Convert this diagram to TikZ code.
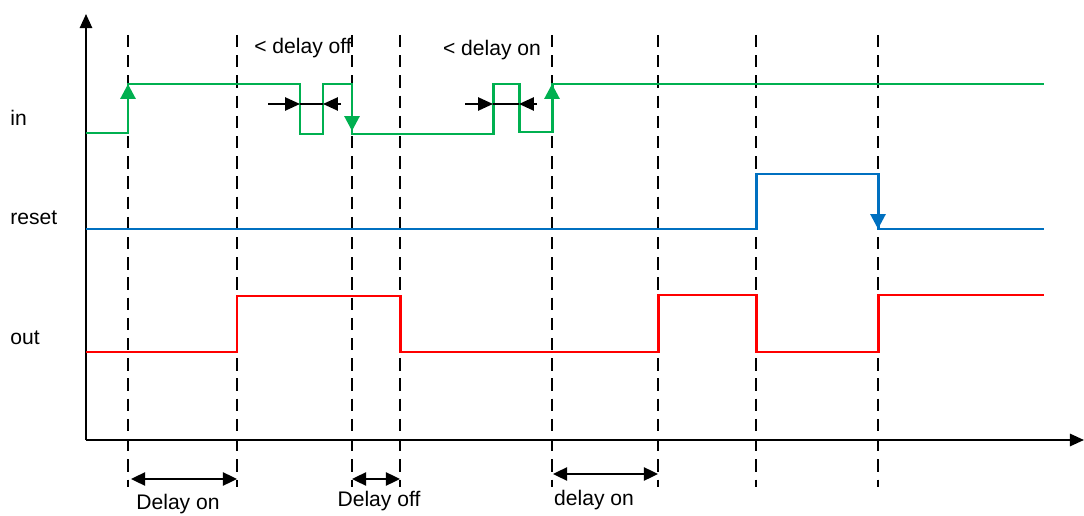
\documentclass[tikz,border=0pt]{standalone}
\usepackage{fontspec}
\setmainfont{Liberation Sans}
\usetikzlibrary{arrows.meta, positioning}
\definecolor{ingreen}{RGB}{0,176,80}
\definecolor{resetblue}{RGB}{0,112,192}
\definecolor{outred}{RGB}{255,0,0}

\begin{document}
\begin{tikzpicture}[x = 0.02cm, y = -0.02cm, font = \fontsize{12}{14}\selectfont,
    axis/.style = {line width = 1.1pt, -{Triangle[width = 7pt, length = 8pt]}},
    tick/.style = {line width = 1.1pt, dash pattern = on 7pt off 4.5pt},
    sig/.style = {line width = 1.7pt},
    edgeup/.style = {sig, -{Triangle[width = 8.5pt, length = 8.5pt]}},
    gap/.style = {line width = 1.1pt, -{Triangle[width = 7.5pt, length = 8.5pt]}},
    span/.style = {line width = 1.1pt, {Triangle[width = 7.5pt, length = 8pt]}-{Triangle[width = 7.5pt, length = 8pt]}},
    lbl/.style = {anchor = west, inner sep = 0pt}]
    \useasboundingbox (0,0) rectangle (1084,516);

    \coordinate (o) at (86,440);
    \coordinate (ytop) at (86,14);
    \coordinate (xend) at (1084,440);
    \draw[axis] (o) -- (ytop);
    \draw[axis] (o) -- (xend);

    \foreach \x in {128,237,352,400,552,658,756,878}
        \draw[tick] (\x,35) -- (\x,487);

    \node[lbl] (in)    at (10,118) {in};
    \node[lbl] (reset) at (10,218) {reset};
    \node[lbl] (out)   at (10,338) {out};

    \draw[sig, ingreen] (86,133) -- (128,133) -- (128,84) -- (300,84) -- (300,134) -- (323,134) -- (323,84)
        -- (352,84) -- (352,134) -- (493,134) -- (493,84) -- (519,84) -- (519,132) -- (552,132) -- (552,84) -- (1044,84);
    \draw[edgeup, ingreen] (128,110) -- (128,84);
    \draw[edgeup, ingreen] (352,100) -- (352,131);
    \draw[edgeup, ingreen] (552,115) -- (552,84);

    \draw[sig, resetblue] (86,229) -- (756,229) -- (756,174) -- (878,174) -- (878,229) -- (1044,229);
    \draw[edgeup, resetblue] (878,200) -- (878,229);

    \draw[sig, outred] (86,352) -- (237,352) -- (237,296) -- (400,296) -- (400,352) -- (658,352) -- (658,295)
        -- (756,295) -- (756,352) -- (878,352) -- (878,295) -- (1044,295);

    \coordinate (offa) at (268,104);
    \coordinate (offb) at (300,104);
    \coordinate (offc) at (323,104);
    \coordinate (offd) at (341,104);
    \draw[gap] (offa) -- (offb);
    \draw[gap] (offd) -- (offc);
    \draw[line width = 1.1pt] (offb) -- (offc);
    \node (offlbl) at (303,48) {< delay off};

    \coordinate (ona) at (465,104);
    \coordinate (onb) at (493,104);
    \coordinate (onc) at (519,104);
    \coordinate (ond) at (537,104);
    \draw[gap] (ona) -- (onb);
    \draw[gap] (ond) -- (onc);
    \draw[line width = 1.1pt] (onb) -- (onc);
    \node (onlbl) at (492,50) {< delay on};

    \coordinate (s1a) at (131,479);
    \coordinate (s1b) at (237,479);
    \coordinate (s2a) at (352,479);
    \coordinate (s2b) at (400,479);
    \coordinate (s3a) at (553,474);
    \coordinate (s3b) at (658,474);
    \draw[span] (s1a) -- (s1b);
    \draw[span] (s2a) -- (s2b);
    \draw[span] (s3a) -- (s3b);
    \node (don)  at (178,504) {Delay on};
    \node (doff) at (379,501) {Delay off};
    \node (don2) at (594,500) {delay on};
\end{tikzpicture}
\end{document}
